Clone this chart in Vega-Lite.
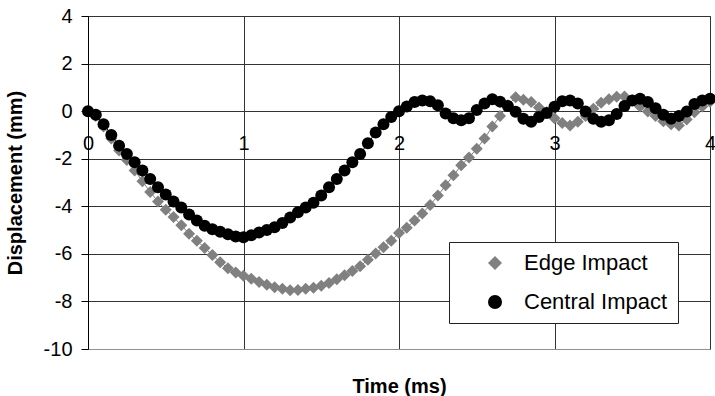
{
  "$schema": "https://vega.github.io/schema/vega-lite/v6.json",
  "width": 622,
  "height": 333,
  "autosize": "none",
  "padding": {"left": 88, "top": 16, "right": 5, "bottom": 47},
  "background": "white",
  "config": {
    "font": "Liberation Sans",
    "view": {"stroke": "#808080", "strokeWidth": 1},
    "axis": {"gridColor": "#333333", "gridOpacity": 1, "gridWidth": 1}
  },
  "data": {
    "values": [
      {"t": 0.00, "Edge Impact": 0, "Central Impact": 0},
      {"t": 0.05, "Edge Impact": -0.2, "Central Impact": -0.15},
      {"t": 0.10, "Edge Impact": -0.65, "Central Impact": -0.55},
      {"t": 0.15, "Edge Impact": -1.15, "Central Impact": -1.0},
      {"t": 0.20, "Edge Impact": -1.65, "Central Impact": -1.45},
      {"t": 0.25, "Edge Impact": -2.05, "Central Impact": -1.8},
      {"t": 0.30, "Edge Impact": -2.5, "Central Impact": -2.15},
      {"t": 0.35, "Edge Impact": -2.95, "Central Impact": -2.5},
      {"t": 0.40, "Edge Impact": -3.4, "Central Impact": -2.85},
      {"t": 0.45, "Edge Impact": -3.8, "Central Impact": -3.2},
      {"t": 0.50, "Edge Impact": -4.15, "Central Impact": -3.5},
      {"t": 0.55, "Edge Impact": -4.45, "Central Impact": -3.8},
      {"t": 0.60, "Edge Impact": -4.8, "Central Impact": -4.05},
      {"t": 0.65, "Edge Impact": -5.15, "Central Impact": -4.35},
      {"t": 0.70, "Edge Impact": -5.45, "Central Impact": -4.6},
      {"t": 0.75, "Edge Impact": -5.75, "Central Impact": -4.82},
      {"t": 0.80, "Edge Impact": -6.05, "Central Impact": -4.97},
      {"t": 0.85, "Edge Impact": -6.35, "Central Impact": -5.07},
      {"t": 0.90, "Edge Impact": -6.6, "Central Impact": -5.18},
      {"t": 0.95, "Edge Impact": -6.78, "Central Impact": -5.27},
      {"t": 1.00, "Edge Impact": -6.92, "Central Impact": -5.3},
      {"t": 1.05, "Edge Impact": -7.05, "Central Impact": -5.22},
      {"t": 1.10, "Edge Impact": -7.18, "Central Impact": -5.1},
      {"t": 1.15, "Edge Impact": -7.3, "Central Impact": -5.0},
      {"t": 1.20, "Edge Impact": -7.4, "Central Impact": -4.88},
      {"t": 1.25, "Edge Impact": -7.47, "Central Impact": -4.7},
      {"t": 1.30, "Edge Impact": -7.53, "Central Impact": -4.47},
      {"t": 1.35, "Edge Impact": -7.52, "Central Impact": -4.25},
      {"t": 1.40, "Edge Impact": -7.47, "Central Impact": -4.05},
      {"t": 1.45, "Edge Impact": -7.42, "Central Impact": -3.85},
      {"t": 1.50, "Edge Impact": -7.34, "Central Impact": -3.55},
      {"t": 1.55, "Edge Impact": -7.22, "Central Impact": -3.2},
      {"t": 1.60, "Edge Impact": -7.07, "Central Impact": -2.85},
      {"t": 1.65, "Edge Impact": -6.9, "Central Impact": -2.5},
      {"t": 1.70, "Edge Impact": -6.72, "Central Impact": -2.15},
      {"t": 1.75, "Edge Impact": -6.52, "Central Impact": -1.8},
      {"t": 1.80, "Edge Impact": -6.25, "Central Impact": -1.35},
      {"t": 1.85, "Edge Impact": -5.98, "Central Impact": -0.9},
      {"t": 1.90, "Edge Impact": -5.72, "Central Impact": -0.55},
      {"t": 1.95, "Edge Impact": -5.45, "Central Impact": -0.25},
      {"t": 2.00, "Edge Impact": -5.12, "Central Impact": 0.0},
      {"t": 2.05, "Edge Impact": -4.9, "Central Impact": 0.2},
      {"t": 2.10, "Edge Impact": -4.6, "Central Impact": 0.38},
      {"t": 2.15, "Edge Impact": -4.3, "Central Impact": 0.45},
      {"t": 2.20, "Edge Impact": -3.95, "Central Impact": 0.42},
      {"t": 2.25, "Edge Impact": -3.55, "Central Impact": 0.25},
      {"t": 2.30, "Edge Impact": -3.12, "Central Impact": -0.1},
      {"t": 2.35, "Edge Impact": -2.7, "Central Impact": -0.3},
      {"t": 2.40, "Edge Impact": -2.28, "Central Impact": -0.38},
      {"t": 2.45, "Edge Impact": -1.95, "Central Impact": -0.3},
      {"t": 2.50, "Edge Impact": -1.58, "Central Impact": 0.05},
      {"t": 2.55, "Edge Impact": -1.15, "Central Impact": 0.32},
      {"t": 2.60, "Edge Impact": -0.65, "Central Impact": 0.5},
      {"t": 2.65, "Edge Impact": -0.2, "Central Impact": 0.4},
      {"t": 2.70, "Edge Impact": 0.25, "Central Impact": 0.22},
      {"t": 2.75, "Edge Impact": 0.58, "Central Impact": -0.03},
      {"t": 2.80, "Edge Impact": 0.48, "Central Impact": -0.32},
      {"t": 2.85, "Edge Impact": 0.38, "Central Impact": -0.45},
      {"t": 2.90, "Edge Impact": 0.15, "Central Impact": -0.25},
      {"t": 2.95, "Edge Impact": -0.05, "Central Impact": -0.08},
      {"t": 3.00, "Edge Impact": -0.3, "Central Impact": 0.18},
      {"t": 3.05, "Edge Impact": -0.5, "Central Impact": 0.42},
      {"t": 3.10, "Edge Impact": -0.6, "Central Impact": 0.45},
      {"t": 3.15, "Edge Impact": -0.45, "Central Impact": 0.32},
      {"t": 3.20, "Edge Impact": -0.2, "Central Impact": -0.02},
      {"t": 3.25, "Edge Impact": 0.1, "Central Impact": -0.32},
      {"t": 3.30, "Edge Impact": 0.35, "Central Impact": -0.45},
      {"t": 3.35, "Edge Impact": 0.5, "Central Impact": -0.38},
      {"t": 3.40, "Edge Impact": 0.6, "Central Impact": -0.12},
      {"t": 3.45, "Edge Impact": 0.62, "Central Impact": 0.22},
      {"t": 3.50, "Edge Impact": 0.45, "Central Impact": 0.45},
      {"t": 3.55, "Edge Impact": 0.2, "Central Impact": 0.52},
      {"t": 3.60, "Edge Impact": -0.02, "Central Impact": 0.38},
      {"t": 3.65, "Edge Impact": -0.2, "Central Impact": 0.12},
      {"t": 3.70, "Edge Impact": -0.42, "Central Impact": -0.15},
      {"t": 3.75, "Edge Impact": -0.55, "Central Impact": -0.32},
      {"t": 3.80, "Edge Impact": -0.6, "Central Impact": -0.2},
      {"t": 3.85, "Edge Impact": -0.35, "Central Impact": -0.02},
      {"t": 3.90, "Edge Impact": -0.05, "Central Impact": 0.3},
      {"t": 3.95, "Edge Impact": 0.2, "Central Impact": 0.45},
      {"t": 4.00, "Edge Impact": 0.4, "Central Impact": 0.52}
    ]
  },
  "transform": [{"fold": ["Edge Impact", "Central Impact"], "as": ["series", "v"]}],
  "encoding": {
    "x": {
      "field": "t", "type": "quantitative",
      "scale": {"domain": [0, 4], "nice": false},
      "axis": {
        "title": "Time (ms)", "values": [0, 1, 2, 3, 4],
        "grid": true, "ticks": false, "tickSize": 0,
        "labelExpr": "'' + datum.value",
        "labelPadding": -206, "labelBaseline": "middle", "labelFontSize": 20, "labelColor": "black",
        "labelBound": false, "labelFlush": false, "labelOverlap": false,
        "domainColor": "#909090", "domainWidth": 1,
        "titleFontSize": 20, "titleFontWeight": "bold", "titleColor": "black",
        "titleY": 37, "titleBaseline": "middle"
      }
    },
    "y": {
      "field": "v", "type": "quantitative",
      "scale": {"domain": [-10, 4], "nice": false, "zero": false},
      "axis": {
        "title": "Displacement (mm)", "values": [-10, -8, -6, -4, -2, 0, 2, 4],
        "grid": true, "ticks": true, "tickSize": 7, "tickColor": "black",
        "labelExpr": "'' + datum.value",
        "labelPadding": 9, "labelFontSize": 20, "labelColor": "black",
        "labelBound": false, "labelFlush": false, "labelOverlap": false,
        "domainColor": "black", "domainWidth": 1,
        "titleFontSize": 20, "titleFontWeight": "bold", "titleColor": "black",
        "titleX": -73, "titleBaseline": "middle"
      }
    },
    "color": {
      "field": "series", "type": "nominal",
      "scale": {"domain": ["Edge Impact", "Central Impact"], "range": ["#808080", "#000000"]},
      "legend": {
        "title": null, "orient": "none", "legendX": 361, "legendY": 226, "direction": "vertical",
        "padding": 10, "strokeColor": "#222222", "fillColor": "white",
        "symbolSize": 196, "symbolOffset": 25, "labelOffset": 18, "rowPadding": 17,
        "symbolOpacity": 1, "symbolStrokeWidth": 0,
        "labelFont": "Liberation Sans", "labelFontSize": 22, "labelColor": "black", "labelLimit": 300
      }
    }
  },
  "layer": [
    {
      "mark": {"type": "line", "strokeWidth": 1}
    },
    {
      "mark": {"type": "point", "filled": true, "opacity": 1, "size": 144},
      "encoding": {
        "shape": {
          "field": "series", "type": "nominal",
          "scale": {"domain": ["Edge Impact", "Central Impact"], "range": ["diamond", "circle"]}
        },
        "order": {"field": "series", "sort": "descending"}
      }
    }
  ]
}
